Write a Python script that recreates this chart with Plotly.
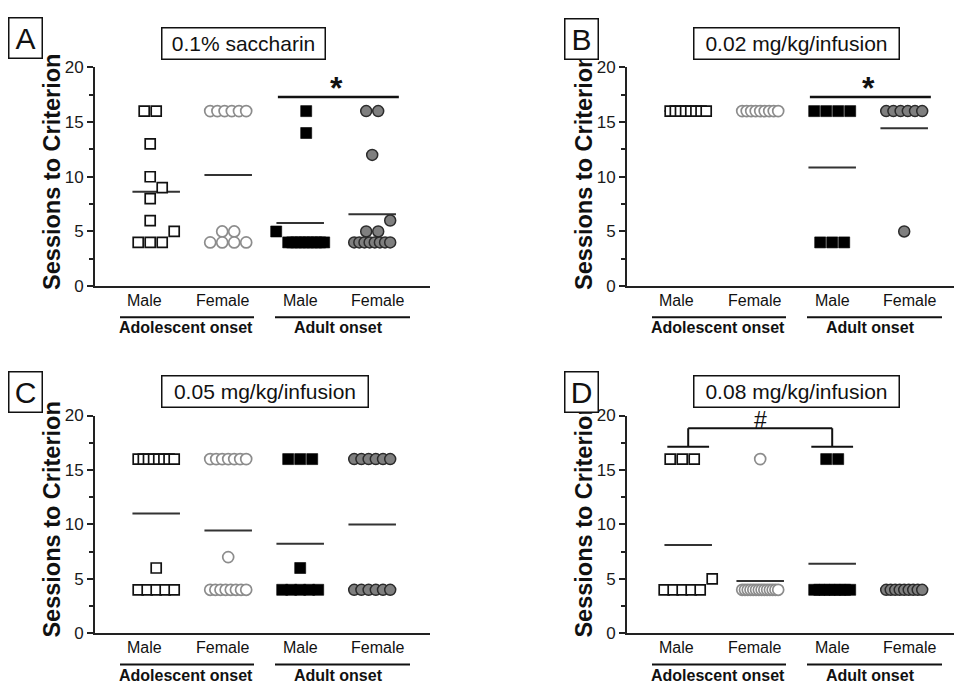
import plotly.graph_objects as go
import numpy as np

# ---------------- data (sessions to criterion) ----------------
groups = ["Male", "Female", "Male", "Female"]
onsets = ["Adolescent onset", "Adult onset"]
panel_letters = ["A", "B", "C", "D"]
panel_titles = ["0.1% saccharin", "0.02 mg/kg/infusion", "0.05 mg/kg/infusion", "0.08 mg/kg/infusion"]
y_ticks = [0, 5, 10, 15, 20]

A_ado_m = [16, 16, 13, 10, 9, 8, 6, 5, 4, 4, 4]
A_ado_f = [16, 16, 16, 16, 16, 16, 5, 5, 4, 4, 4, 4]
A_adu_m = [16, 14, 5, 4, 4, 4, 4, 4, 4, 4, 4, 4, 4]
A_adu_f = [16, 16, 12, 6, 5, 5, 4, 4, 4, 4, 4, 4, 4, 4]

B_ado_m = [16, 16, 16, 16, 16, 16, 16, 16]
B_ado_f = [16, 16, 16, 16, 16, 16, 16, 16, 16]
B_adu_m = [16, 16, 16, 16, 4, 4, 4]
B_adu_f = [16, 16, 16, 16, 16, 16, 5]

C_ado_m = [16, 16, 16, 16, 16, 16, 16, 16, 6, 4, 4, 4, 4, 4]
C_ado_f = [16, 16, 16, 16, 16, 16, 16, 7, 4, 4, 4, 4, 4, 4, 4, 4]
C_adu_m = [16, 16, 16, 6, 4, 4, 4, 4, 4]
C_adu_f = [16, 16, 16, 16, 16, 16, 4, 4, 4, 4, 4, 4]

D_ado_m = [16, 16, 16, 5, 4, 4, 4, 4, 4]
D_ado_f = [16, 4, 4, 4, 4, 4, 4, 4, 4, 4, 4, 4, 4, 4, 4]
D_adu_m = [16, 16, 4, 4, 4, 4, 4, 4, 4, 4]
D_adu_f = [4, 4, 4, 4, 4, 4, 4, 4, 4]

panel_data = [
    [A_ado_m, A_ado_f, A_adu_m, A_adu_f],
    [B_ado_m, B_ado_f, B_adu_m, B_adu_f],
    [C_ado_m, C_ado_f, C_adu_m, C_adu_f],
    [D_ado_m, D_ado_f, D_adu_m, D_adu_f],
]

# ---------------- layout constants ----------------
W, H = 955, 692
FONT = "Liberation Sans, Arial, sans-serif"
PPU_X = 72.0                       # pixels per x unit
X0 = 0.15                          # x range start
col_pos = [1, 2, 3, 4]
axis_left = [95, 627, 95, 627]     # px of the y axis line
axis_right = [430, 954, 430, 954]
y_top = [60, 60, 418, 418]         # px of value 20
y_bot = [285, 285, 642, 642]       # px of value 0
letter_xy = [(25, 30), (581, 31), (25, 394), (581, 394)]
# preferred side for isolated points pushed off a crowded row (+1 right, -1 left)
side_pref = [[1, 1, -1, 1], [1, 1, 1, 1], [1, 1, 1, 1], [1, 1, 1, 1]]

styles = [
    dict(symbol="square", size=10, color="white", line=dict(color="#111111", width=1.7)),
    dict(symbol="circle", size=11, color="white", line=dict(color="#8c8c8c", width=1.7)),
    dict(symbol="square", size=11, color="#000000", line=dict(color="#000000", width=0.6)),
    dict(symbol="circle", size=11, color="#7f7f7f", line=dict(color="#2b2b2b", width=1.5)),
]


def px_x(px):
    return px / W


def px_y(py):
    return 1 - py / H


def swarm(vals, ppu_y, side=1, step=12.0, maxspan=36.0, thr=11.6):
    """Simple column-scatter layout: returns x offsets (px) for each value."""
    vals = list(vals)
    offs = [0.0] * len(vals)
    placed = []
    for v in sorted(set(vals)):
        idx = [i for i, u in enumerate(vals) if u == v]
        n = len(idx)
        y = v * ppu_y
        if n == 1:
            chosen = 0.0
            for k in range(0, 80):
                found = False
                for c in ([k] if k == 0 else [side * k, -side * k]):
                    if all(abs(c - dx) >= thr or abs(y - py) >= thr for dx, py in placed):
                        chosen = c
                        found = True
                        break
                if found:
                    break
            offs[idx[0]] = chosen
            placed.append((chosen, y))
        else:
            sp = min(step, maxspan / (n - 1))
            for j, i in enumerate(idx):
                o = (j - (n - 1) / 2) * sp
                offs[i] = o
                placed.append((o, y))
    lo, hi = min(offs), max(offs)
    c = (lo + hi) / 2
    return [o - c for o in offs]


fig = go.Figure()
layout = dict(
    width=W, height=H, margin=dict(l=0, r=0, t=0, b=0),
    paper_bgcolor="white", plot_bgcolor="white", showlegend=False,
    font=dict(family=FONT, color="#111111"),
)
annotations = []
shapes = []

for p in range(4):
    xa = "x" if p == 0 else f"x{p + 1}"
    ya = "y" if p == 0 else f"y{p + 1}"
    xkey = "xaxis" if p == 0 else f"xaxis{p + 1}"
    ykey = "yaxis" if p == 0 else f"yaxis{p + 1}"
    L, R, T, B = axis_left[p], axis_right[p], y_top[p], y_bot[p]
    ppu_y = (B - T) / 20.0
    layout[xkey] = dict(
        domain=[px_x(L), px_x(R)], range=[X0, X0 + (R - L) / PPU_X], anchor=ya,
        showline=True, linecolor="#222222", linewidth=2, ticks="", showticklabels=False,
        showgrid=False, zeroline=False, fixedrange=True,
    )
    layout[ykey] = dict(
        domain=[px_y(B), px_y(T)], range=[0, 20], anchor=xa,
        showline=True, linecolor="#222222", linewidth=2,
        tickmode="array", tickvals=y_ticks, ticktext=[str(t) for t in y_ticks],
        ticks="outside", ticklen=6, tickwidth=1.5, tickcolor="#222222",
        tickfont=dict(size=17, family=FONT, color="#1a1a1a"),
        minor=dict(tickvals=[2.5, 7.5, 12.5, 17.5], ticks="outside", ticklen=4,
                   tickwidth=1.5, tickcolor="#222222"),
        showgrid=False, zeroline=False, fixedrange=True,
    )

    # mean lines (behind the points)
    for g, vals in enumerate(panel_data[p]):
        m = float(np.mean(vals))
        fig.add_trace(go.Scatter(
            x=[col_pos[g] - 0.33, col_pos[g] + 0.33], y=[m, m], mode="lines",
            line=dict(color="#333333", width=2), xaxis=xa, yaxis=ya, hoverinfo="skip",
        ))
    # points
    for g, vals in enumerate(panel_data[p]):
        offs = swarm(vals, ppu_y, side=side_pref[p][g])
        xs = [col_pos[g] + o / PPU_X for o in offs]
        st = styles[g]
        fig.add_trace(go.Scatter(
            x=xs, y=vals, mode="markers", xaxis=xa, yaxis=ya,
            marker=dict(symbol=st["symbol"], size=st["size"], color=st["color"], line=st["line"]),
            cliponaxis=False,
        ))

    # y-axis title
    annotations.append(dict(
        text="<b>Sessions to Criterion</b>", xref="paper", yref="paper",
        x=px_x(L - 43), y=px_y((T + B) / 2 - 5), textangle=-90, showarrow=False,
        xanchor="center", yanchor="middle", font=dict(size=23.5, family=FONT, color="#111111"),
    ))
    # category labels
    for lx, txt in zip([49, 127, 205, 282], groups):
        annotations.append(dict(
            text=txt, xref="paper", yref="paper", x=px_x(L + lx), y=px_y(B + 15),
            showarrow=False, xanchor="center", yanchor="middle",
            font=dict(size=16, family=FONT, color="#111111"),
        ))
    for (u0, u1), gx, txt in zip([(25, 159), (180, 315)], [91, 243], onsets):
        shapes.append(dict(type="line", xref="paper", yref="paper",
                           x0=px_x(L + u0), x1=px_x(L + u1), y0=px_y(B + 32), y1=px_y(B + 32),
                           line=dict(color="#111111", width=2)))
        annotations.append(dict(
            text=f"<b>{txt}</b>", xref="paper", yref="paper", x=px_x(L + gx), y=px_y(B + 43),
            showarrow=False, xanchor="center", yanchor="middle",
            font=dict(size=16, family=FONT, color="#111111"),
        ))
    # panel title box
    box_w = [164, 206, 207, 206][p]
    annotations.append(dict(
        text=panel_titles[p], xref="paper", yref="paper", x=px_x(L + 66), y=px_y(T - 25),
        showarrow=False, xanchor="left", yanchor="middle", align="center",
        width=box_w - 8, height=24, borderpad=3, bordercolor="#111111", borderwidth=1.5,
        bgcolor="white", font=dict(size=21, family=FONT, color="#111111"),
    ))
    # panel letter box
    lxp, lyp = letter_xy[p]
    annotations.append(dict(
        text=panel_letters[p], xref="paper", yref="paper", x=px_x(lxp), y=px_y(lyp),
        showarrow=False, xanchor="center", yanchor="middle", align="center",
        width=28, height=35, borderpad=2, bordercolor="#111111", borderwidth=1.5,
        bgcolor="white", font=dict(size=30, family=FONT, color="#111111"),
    ))

# significance marks (A, B): line over adult-onset groups with a star
for p in (0, 1):
    xa = "x" if p == 0 else f"x{p + 1}"
    ya = "y" if p == 0 else f"y{p + 1}"
    shapes.append(dict(type="line", xref=xa, yref=ya, x0=2.69, x1=4.37, y0=17.3, y1=17.3,
                       line=dict(color="#111111", width=2.5)))
    annotations.append(dict(text="<b>*</b>", xref=xa, yref=ya, x=3.5, y=17.3, showarrow=False,
                            xanchor="center", yanchor="middle", yshift=9,
                            font=dict(size=32, family=FONT, color="#111111")))

# bracket in D: adolescent male vs adult male
for x0, x1, y0, y1 in [(1, 3, 18.84, 18.84), (1, 1, 17.14, 18.84), (3, 3, 17.14, 18.84),
                       (0.71, 1.29, 17.14, 17.14), (2.71, 3.29, 17.14, 17.14)]:
    shapes.append(dict(type="line", xref="x4", yref="y4", x0=x0, x1=x1, y0=y0, y1=y1,
                       line=dict(color="#111111", width=2)))
annotations.append(dict(text="#", xref="x4", yref="y4", x=2, y=19.55, showarrow=False,
                        xanchor="center", yanchor="middle",
                        font=dict(size=23, family=FONT, color="#111111")))

layout["annotations"] = annotations
layout["shapes"] = shapes
fig.update_layout(**layout)
fig.write_html(
    "out.html",
    config={"displayModeBar": False},
    post_script="document.body.style.margin='0px';document.body.style.overflow='hidden';",
)
